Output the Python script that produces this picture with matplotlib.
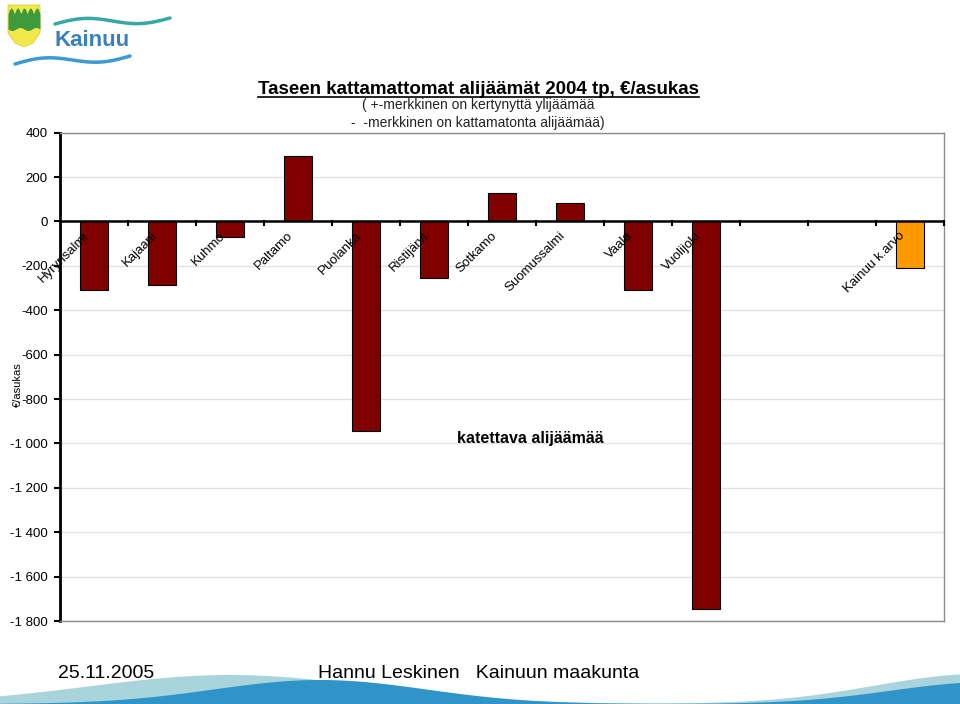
import numpy as np
import matplotlib
matplotlib.use("Agg")
import matplotlib.pyplot as plt
from matplotlib.patches import Polygon
from matplotlib.lines import Line2D

plt.rcParams['font.family'] = ['Liberation Sans', 'DejaVu Sans']

# ==============================
# Data
# ==============================
kunnat = ["Hyrynsalmi", "Kajaani", "Kuhmo", "Paltamo", "Puolanka", "Ristijärvi",
          "Sotkamo", "Suomussalmi", "Vaala", "Vuolijoki", "", "", "Kainuu k.arvo"]
arvot = [-310, -285, -72, 294, -945, -255, 129, 82, -307, -1745, np.nan, np.nan, -208]
varit = ["#800000"] * 12 + ["#FF9900"]

y_ticks = list(range(-1800, 401, 200))

# ==============================
# Figure
# ==============================
fig = plt.figure(figsize=(9.6, 7.04), dpi=100)
fig.patch.set_facecolor("white")

ax = fig.add_axes([60 / 960, 1 - 621 / 704, 884 / 960, (621 - 132.6) / 704])

x = np.arange(len(kunnat))
ax.bar(x, arvot, width=0.41, color=varit, edgecolor="black", linewidth=0.8, zorder=3)

ax.set_xlim(-0.5, len(kunnat) - 0.5)
ax.set_ylim(-1800, 400)
ax.set_yticks(y_ticks)
ax.set_yticklabels([f"{v:,}".replace(",", " ") for v in y_ticks], fontsize=9.5)
ax.yaxis.grid(True, color="#e2e2e2", linewidth=1, zorder=0)
ax.set_axisbelow(True)
ax.set_xticks([])

for side in ["top", "right", "bottom"]:
    ax.spines[side].set_color("#8c8c8c")
    ax.spines[side].set_linewidth(1)
ax.spines["left"].set_color("black")
ax.spines["left"].set_linewidth(2)
ax.tick_params(axis="y", direction="out", length=4, width=1.5, pad=5)

# zero line with category ticks
ax.axhline(0, color="black", linewidth=1.8, zorder=4)
for b in np.arange(0.5, len(kunnat) - 0.5 + 0.01, 1.0):
    ax.plot([b, b], [0, -16], color="black", linewidth=1.5, zorder=4, clip_on=False)

# category labels along the zero line
for xi, nimi in zip(x, kunnat):
    if nimi:
        ax.text(xi - 0.16, -38, nimi, rotation=45, rotation_mode="anchor",
                ha="right", va="top", fontsize=9.5, zorder=5)

ax.text(-0.0475, 0.483, "€/asukas", rotation=90, ha="center", va="center",
        fontsize=8, transform=ax.transAxes, clip_on=False)

ax.text(6.41, -980, "katettava alijäämää", fontsize=11.5, fontweight="bold",
        ha="center", va="center")

# ==============================
# Titles
# ==============================
title = fig.text(478 / 960, 1 - 94 / 704, "Taseen kattamattomat alijäämät 2004 tp, €/asukas",
                 ha="center", va="baseline", fontsize=13.5, fontweight="bold")
fig.text(478 / 960, 1 - 105 / 704, "( +-merkkinen on kertynyttä ylijäämää",
         ha="center", va="center", fontsize=10, color="#222222")
fig.text(478 / 960, 1 - 123 / 704, "-  -merkkinen on kattamatonta alijäämää)",
         ha="center", va="center", fontsize=10, color="#222222")

fig.canvas.draw()
bb = title.get_window_extent()
fig.add_artist(Line2D([bb.x0 / 960, bb.x1 / 960], [1 - 97 / 704, 1 - 97 / 704],
                      color="black", linewidth=1.2))

# ==============================
# Decoration (logo + footer waves)
# ==============================
deco = fig.add_axes([0, 0, 1, 1], zorder=-1)
deco.set_xlim(0, 960)
deco.set_ylim(704, 0)
deco.axis("off")

# shield
deco.add_patch(Polygon([[8, 5], [40, 5], [40, 33], [33, 43], [24, 47], [15, 43], [8, 33]],
                       closed=True, facecolor="#f3e84a", edgecolor="#d8c830", linewidth=0.5))
tx = np.linspace(8, 40, 60)
top_edge = 14 - 6 * np.abs(np.sin((tx - 8) / 32 * 5 * np.pi))
bot_edge = 29 + 1.5 * np.sin((tx - 8) / 32 * 4 * np.pi)
deco.fill_between(tx, top_edge, bot_edge, color="#3f9a3c", linewidth=0)

# Kainuu wordmark
wx = np.linspace(55, 170, 100)
deco.plot(wx, 24 - 4 * np.sin((wx - 55) / 115 * 2 * np.pi) - 6 * (wx - 55) / 115,
          color="#3aa7a7", linewidth=2.5, solid_capstyle="round")
wx2 = np.linspace(15, 130, 100)
deco.plot(wx2, 64 - 4 * np.sin((wx2 - 15) / 115 * 2 * np.pi) - 8 * (wx2 - 15) / 115,
          color="#3a9bd0", linewidth=2.5, solid_capstyle="round")
deco.text(54, 41, "Kainuu", fontsize=16, fontweight="bold", color="#3a7fc0",
          ha="left", va="center")

# footer waves
fx = np.linspace(0, 960, 300)
light = 704 - 29 * np.exp(-((fx - 230) / 200) ** 2) - 30 * np.exp(-((fx - 980) / 150) ** 2)
dark = 704 - 24 * np.exp(-((fx - 320) / 150) ** 2) - 22 * np.exp(-((fx - 990) / 140) ** 2)
deco.fill_between(fx, light, 704, color="#a9d4dc", linewidth=0)
deco.fill_between(fx, dark, 704, color="#2f95c8", linewidth=0)

fig.text(58 / 960, 1 - 674 / 704, "25.11.2005", fontsize=14, ha="left", va="center")
fig.text(318 / 960, 1 - 674 / 704, "Hannu Leskinen   Kainuun maakunta", fontsize=14,
         ha="left", va="center")

fig.savefig("out.png", dpi=100)
